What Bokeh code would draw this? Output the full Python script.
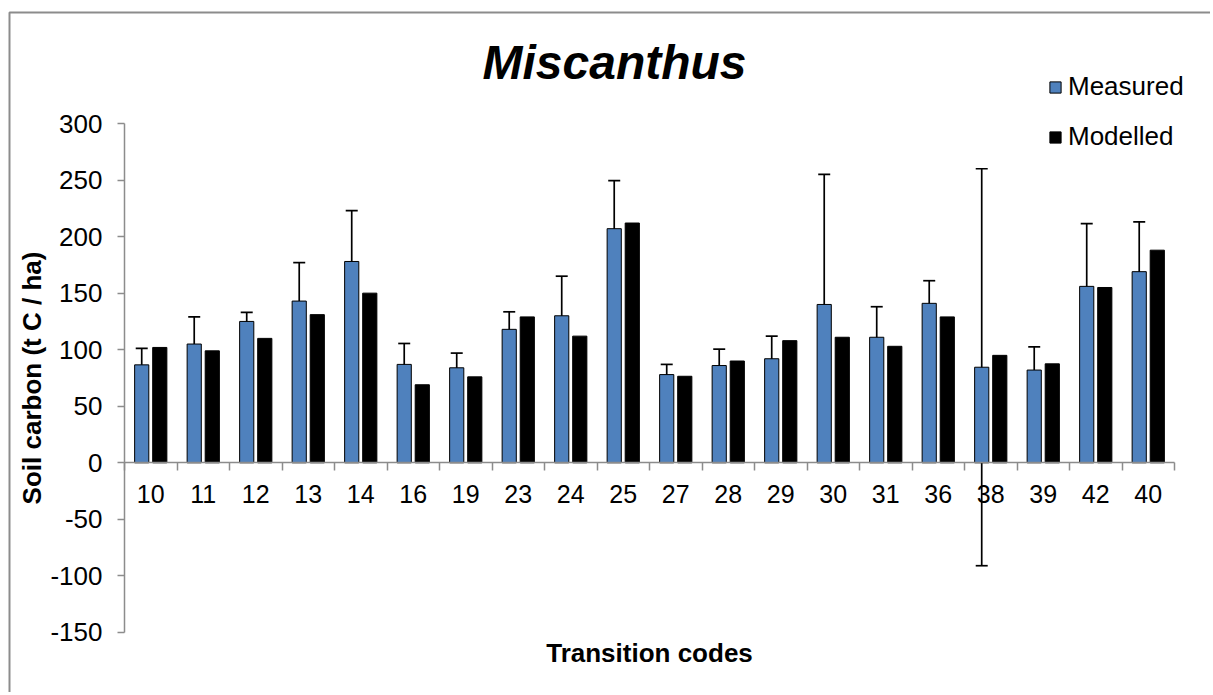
import math
from bokeh.plotting import figure
from bokeh.models import (ColumnDataSource, Whisker, TeeHead, FixedTicker, Legend,
                          LegendItem, Label, Range1d)
from bokeh.embed import file_html
from bokeh.resources import INLINE

codes = ["10", "11", "12", "13", "14", "16", "19", "23", "24", "25",
         "27", "28", "29", "30", "31", "36", "38", "39", "42", "40"]
measured = [86.6, 105, 125, 143, 178, 87, 84, 118, 130, 207,
            78, 86, 92, 140, 111, 141, 84.5, 82, 156, 169]
modelled = [102, 99, 110, 131, 150, 69, 76, 129, 112, 212,
            76.5, 90, 108, 111, 103, 129, 95, 87.5, 155, 188]
errors = [14.5, 24, 8, 34, 45, 18.5, 13, 15.5, 35, 42.5,
          9, 14.5, 20, 115, 27, 20, 175.5, 20.5, 55.5, 44]
y_ticks = [-150, -100, -50, 0, 50, 100, 150, 200, 250, 300]
y_min, y_max = -150, 300

FONT = "Liberation Sans"
GRAY = "#8c8c8c"
BLUE = "#4F81BD"
BAR_W = 0.27
OFF = 0.172

# geometry (page pixels; the canvas starts at the page's top-left corner)
AXIS_X = 124                        # page x of the y axis
CAT_PX = 52.5                       # pixels per category
ZERO_Y = 462.3                      # page y of value 0
PX_PER_UNIT = 1.131
FIG_W, FIG_H = 1210, 692


def xd(page_x):
    return (page_x - AXIS_X) / CAT_PX


def yd(page_y):
    return (ZERO_Y - page_y) / PX_PER_UNIT


n = len(codes)
centers = [i + 0.5 for i in range(n)]
src = ColumnDataSource(dict(
    xm=[c - OFF for c in centers],
    xd=[c + OFF for c in centers],
    measured=measured,
    modelled=modelled,
    lower=[m - e for m, e in zip(measured, errors)],
    upper=[m + e for m, e in zip(measured, errors)],
))

p = figure(frame_width=FIG_W, frame_height=FIG_H,
           output_backend="svg", toolbar_location=None,
           x_range=Range1d(xd(0), xd(FIG_W)),
           y_range=Range1d(yd(FIG_H), yd(0)),
           min_border_left=0, min_border_right=0, min_border_top=0,
           min_border_bottom=0)
p.outline_line_color = None
p.grid.visible = False

# chart-area border (only its top and left edges fall inside the picture)
p.line(x=[xd(9), xd(9), xd(FIG_W + 300)], y=[yd(FIG_H + 300), yd(12), yd(12)],
       line_color=GRAY, line_width=2)

r_meas = p.vbar(x="xm", top="measured", bottom=0, width=BAR_W, source=src,
                fill_color=BLUE, line_color="black", line_width=1)
r_mod = p.vbar(x="xd", top="modelled", bottom=0, width=BAR_W, source=src,
               fill_color="black", line_color="black", line_width=1)

wh = Whisker(base="xm", lower="lower", upper="upper", source=src,
             line_color="black", line_width=1.7,
             upper_head=TeeHead(size=12, line_color="black", line_width=1.7),
             lower_head=TeeHead(size=12, line_color="black", line_width=1.7))
p.add_layout(wh)

# y axis at x = 0
ya = p.yaxis[0]
ya.fixed_location = 0
ya.bounds = (y_min, y_max)
ya.ticker = FixedTicker(ticks=y_ticks)
ya.major_label_overrides = {t: str(t) for t in y_ticks}
ya.major_label_text_font = FONT
ya.major_label_text_font_size = "26px"
ya.major_label_text_color = "black"
ya.major_label_standoff = 15
ya.axis_line_color = GRAY
ya.axis_line_width = 1.5
ya.major_tick_line_color = GRAY
ya.major_tick_line_width = 1.5
ya.major_tick_out = 7
ya.major_tick_in = 0
ya.minor_tick_line_color = None

# x axis at y = 0
xa = p.xaxis[0]
xa.fixed_location = 0
xa.bounds = (0, n)
xa.ticker = FixedTicker(ticks=centers, minor_ticks=list(range(n + 1)))
xa.major_label_overrides = {c: code for c, code in zip(centers, codes)}
xa.major_label_text_font = FONT
xa.major_label_text_font_size = "25px"
xa.major_label_text_color = "black"
xa.major_label_standoff = 14
xa.major_tick_out = 0
xa.major_tick_in = 0
xa.major_tick_line_color = None
xa.minor_tick_line_color = GRAY
xa.minor_tick_line_width = 1.5
xa.minor_tick_out = 8
xa.minor_tick_in = 0
xa.axis_line_color = GRAY
xa.axis_line_width = 1.5

legend = Legend(items=[LegendItem(label="Measured", renderers=[r_meas]),
                       LegendItem(label="Modelled", renderers=[r_mod])],
                location=(1048, 540),
                orientation="vertical",
                label_text_font=FONT, label_text_font_size="26px",
                label_text_color="black",
                glyph_width=14, glyph_height=14, label_standoff=6,
                label_height=26, spacing=19, padding=0, margin=0,
                border_line_color=None, background_fill_alpha=0)
p.add_layout(legend)

p.add_layout(Label(x=xd(614), y=yd(62), text="Miscanthus", text_align="center",
                   text_baseline="alphabetic", text_font=FONT,
                   text_font_size="48px", text_font_style="bold italic",
                   text_color="black"))
p.add_layout(Label(x=n / 2, y=yd(652), text="Transition codes", text_align="center",
                   text_baseline="alphabetic", text_font=FONT,
                   text_font_size="26px", text_font_style="bold",
                   text_color="black"))
p.add_layout(Label(x=xd(31), y=yd(377.5), text="Soil carbon (t C / ha)",
                   angle=math.pi / 2, text_align="center",
                   text_baseline="middle", text_font=FONT,
                   text_font_size="26px", text_font_style="bold",
                   text_color="black"))

open("out.html", "w").write(file_html(p, INLINE))
